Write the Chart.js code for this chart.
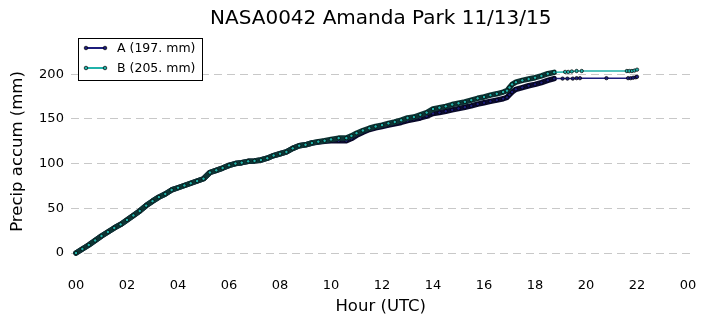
<!DOCTYPE html>
<html>
<head>
<meta charset="utf-8">
<script src="https://cdn.jsdelivr.net/npm/chart.js@4.4.0/dist/chart.umd.min.js"></script>
<style>
  html, body { margin: 0; padding: 0; background: #fff; }
  #chart { display: block; }
</style>
</head>
<body>
<canvas id="chart" width="706" height="326"></canvas>
<script>
// gauge A
const hoursA = [0, 0.25, 0.5, 0.75, 1, 1.25, 1.5, 1.75, 2, 2.25, 2.5, 2.75, 3, 3.25, 3.5, 3.75,
  4, 4.25, 4.5, 4.75, 5, 5.25, 5.5, 5.75, 6, 6.25, 6.5, 6.75, 7, 7.25, 7.5, 7.75,
  8, 8.25, 8.5, 8.75, 9, 9.25, 9.5, 9.75, 10, 10.3, 10.6, 10.8,
  11, 11.25, 11.5, 11.75, 12, 12.25, 12.5, 12.75, 13, 13.25, 13.5, 13.75,
  14, 14.25, 14.5, 14.75, 15, 15.25, 15.5, 15.75, 16, 16.25, 16.5, 16.75,
  16.9, 17, 17.1, 17.25, 17.5, 17.75, 18, 18.25, 18.5, 18.75,
  19.08, 19.27, 19.48, 19.63, 19.76, 20.8, 21.65, 21.75, 21.85, 21.95, 22.0];
const precipA = [0, 4.5, 9, 14, 19, 23.5, 28, 32, 37, 42, 47, 53, 58, 62.5, 66, 70.5,
  73, 75.5, 78, 80.5, 83, 90, 92.5, 95, 98, 100, 101, 102.5, 103, 104, 106, 109,
  111, 113, 117, 120, 121, 123, 124, 125, 125.5, 125.5, 125.5, 128,
  131.5, 135, 138, 140, 141.5, 143, 144.5, 146, 148, 149.5, 151, 153,
  156, 157, 158.5, 160, 161.5, 163, 164.5, 166.5, 168, 169.5, 171, 172.5,
  174, 177, 180, 183, 185, 187, 188.5, 190.5, 193, 195,
  195, 195, 195, 195.5, 195.5, 195.5, 195.5, 195.5, 196, 196.5, 197];

// gauge B
const hoursB = [0, 0.25, 0.5, 0.75, 1, 1.25, 1.5, 1.75, 2, 2.25, 2.5, 2.75, 3, 3.25, 3.5, 3.75,
  4, 4.25, 4.5, 4.75, 5, 5.25, 5.5, 5.75, 6, 6.25, 6.5, 6.75, 7, 7.25, 7.5, 7.75,
  8, 8.25, 8.5, 8.75, 9, 9.25, 9.5, 9.75, 10, 10.3, 10.6, 10.8,
  11, 11.25, 11.5, 11.75, 12, 12.25, 12.5, 12.75, 13, 13.25, 13.5, 13.75,
  14, 14.25, 14.5, 14.75, 15, 15.25, 15.5, 15.75, 16, 16.25, 16.5, 16.75,
  16.9, 17, 17.1, 17.25, 17.5, 17.75, 18, 18.25, 18.5, 18.75,
  19.18, 19.3, 19.44, 19.63, 19.83, 21.6, 21.7, 21.8, 21.9, 22.0];
const precipB = [0, 4.5, 9, 14, 19, 23.5, 28, 32, 37, 42, 47, 53, 58, 62.5, 66, 70.5,
  73, 75.5, 78, 80.5, 83, 90, 92.5, 95, 98, 100, 101, 102.5, 103, 104, 106, 109,
  111, 113, 117, 120, 121, 123, 124.5, 125.5, 127, 128.5, 128.5, 131,
  134, 137, 139.5, 141.5, 143, 145, 146.5, 148.5, 151, 152, 154.5, 157,
  161, 162.5, 164, 166, 167.5, 169, 171, 173, 174.5, 176.5, 178, 180,
  181.5, 185, 188.5, 191, 193, 194.5, 196, 198, 200.5, 202,
  202.5, 202.5, 203, 203.5, 203.5, 203.5, 203.5, 203.5, 204, 205];

const xTicks = [0, 2, 4, 6, 8, 10, 12, 14, 16, 18, 20, 22, 24];
const xTickLabels = ['00', '02', '04', '06', '08', '10', '12', '14', '16', '18', '20', '22', '00'];
const yTicks = [0, 50, 100, 150, 200];
const titleText = 'NASA0042 Amanda Park 11/13/15';

// continuous record ends here, after that only scattered reports
const denseEnd = 18.75;
const FONT = 'DejaVu Sans';

function gauge(name, hours, precip, lineColor, bandColor, order) {
  const total = precip[precip.length - 1];
  return {
    label: name + ' (' + total + '. mm)',
    data: hours.map((h, i) => ({x: h, y: precip[i]})),
    order: order,
    borderColor: lineColor,
    borderWidth: 1.5,
    borderJoinStyle: 'round',
    borderCapStyle: 'round',
    pointRadius: 1.7,
    pointBorderWidth: 0.7,
    pointBackgroundColor: lineColor,
    pointBorderColor: '#000',
    segment: {
      borderColor: ctx => ctx.p1.parsed.x <= denseEnd ? bandColor : lineColor,
      borderWidth: ctx => ctx.p1.parsed.x <= denseEnd ? 5.5 : 1.5
    },
    tension: 0
  };
}

// title centred over the plot area, legend box in the upper left corner
const decorations = {
  id: 'decorations',
  afterDraw(chart) {
    const ctx = chart.ctx;
    const area = chart.chartArea;
    ctx.save();
    ctx.fillStyle = '#000';
    ctx.font = '20px "' + FONT + '"';
    ctx.textAlign = 'center';
    ctx.textBaseline = 'middle';
    ctx.fillText(titleText, (area.left + area.right) / 2, 19);

    const x0 = 78.5, y0 = 38.5, w = 124, h = 42;
    ctx.fillStyle = '#fff';
    ctx.strokeStyle = '#000';
    ctx.lineWidth = 1;
    ctx.fillRect(x0, y0, w, h);
    ctx.strokeRect(x0, y0, w, h);
    chart.data.datasets.forEach((ds, i) => {
      const y = 48 + i * 20;
      ctx.strokeStyle = ds.borderColor;
      ctx.lineWidth = 2;
      ctx.beginPath();
      ctx.moveTo(86, y);
      ctx.lineTo(105, y);
      ctx.stroke();
      [86, 105].forEach(px => {
        ctx.beginPath();
        ctx.arc(px, y, 1.8, 0, Math.PI * 2);
        ctx.fillStyle = ds.pointBackgroundColor;
        ctx.fill();
        ctx.lineWidth = 0.7;
        ctx.strokeStyle = '#000';
        ctx.stroke();
      });
      ctx.fillStyle = '#000';
      ctx.font = '12.5px "' + FONT + '"';
      ctx.textBaseline = 'middle';
      ctx.textAlign = 'left';
      ctx.fillText(ds.label, 117, y + 0.5);
    });
    ctx.restore();
  }
};

new Chart(document.getElementById('chart'), {
  type: 'line',
  data: {
    datasets: [
      gauge('A', hoursA, precipA, '#1c1c7c', '#0b0b2e', 1),
      gauge('B', hoursB, precipB, '#20b2aa', '#0d3434', 0)
    ]
  },
  options: {
    responsive: false,
    animation: false,
    layout: {padding: {left: 0, right: 15.4, top: 33, bottom: 0}},
    plugins: {
      legend: {display: false},
      tooltip: {enabled: false},
      title: {display: false}
    },
    scales: {
      x: {
        type: 'linear',
        min: -0.2,
        max: 24.1,
        afterBuildTicks: s => { s.ticks = xTicks.map(v => ({value: v})); },
        afterFit: s => { s.height = 56; },
        grid: {display: false},
        border: {display: false},
        ticks: {
          color: '#000',
          font: {family: FONT, size: 13},
          padding: 0,
          maxRotation: 0,
          callback: (v, i) => xTickLabels[i]
        },
        title: {
          display: true,
          text: 'Hour (UTC)',
          color: '#000',
          font: {family: FONT, size: 16.5},
          padding: {top: 0, bottom: 9}
        }
      },
      y: {
        min: -19,
        max: 246,
        afterBuildTicks: s => { s.ticks = yTicks.map(v => ({value: v})); },
        afterFit: s => { s.width = 70.9; },
        grid: {color: '#c8c8c8', lineWidth: 1, drawTicks: false},
        border: {display: false, dash: [8, 5]},
        ticks: {
          color: '#000',
          font: {family: FONT, size: 13},
          padding: 7
        },
        title: {
          display: true,
          text: 'Precip accum (mm)',
          color: '#000',
          font: {family: FONT, size: 16.5},
          padding: {top: 8, bottom: 0}
        }
      }
    }
  },
  plugins: [decorations]
});
</script>
</body>
</html>
